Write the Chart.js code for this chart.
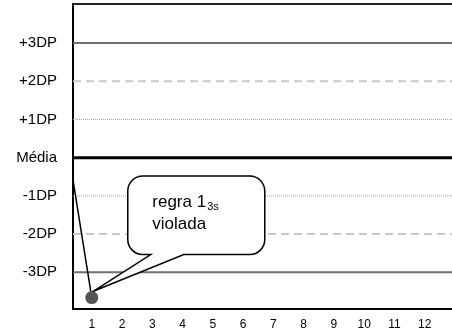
<!DOCTYPE html>
<html lang="pt">
<head>
    <meta charset="UTF-8">
    <title>Carta de controle - regra 1-3s</title>
    <script src="https://cdn.jsdelivr.net/npm/chart.js"></script>
    <style>
        body {
            margin: 0;
            background-color: #fff;
        }
        .chart-container {
            width: 452px;
            height: 335px;
        }
    </style>
</head>
<body>

    <div class="chart-container">
        <canvas id="qcChart"></canvas>
    </div>

    <script>
        // Runs shown on the x axis
        const runLabels = ['1', '2', '3', '4', '5', '6', '7', '8', '9', '10', '11', '12'];

        // Control levels (in DP) and their labels
        const sdLevels = [-3, -2, -1, 0, 1, 2, 3];
        const sdLabels = ['-3DP', '-2DP', '-1DP', 'Média', '+1DP', '+2DP', '+3DP'];

        // Control results in DP; run 0 is the previous result, cut off by the axis
        const runs = [0, 1];
        const results = [1.3, -3.66];

        // Callout text
        const calloutMain = 'regra 1';
        const calloutSub = '3s';
        const calloutLine2 = 'violada';

        const X_MIN = 0.38;
        const X_MAX = 12.9;
        const FONT = '"Liberation Sans", Arial, sans-serif';

        // Line style for each control limit
        function limitStyle(level) {
            const a = Math.abs(level);
            if (a === 0) return { borderColor: '#000000', borderWidth: 3, borderDash: [] };
            if (a === 1) return { borderColor: '#a0a0a0', borderWidth: 1, borderDash: [1, 1] };
            if (a === 2) return { borderColor: '#c8c8c8', borderWidth: 2, borderDash: [8, 5] };
            return { borderColor: '#707070', borderWidth: 2, borderDash: [] };
        }

        const limitSets = sdLevels.map(level => Object.assign({
            label: 'limit ' + level,
            data: [{ x: X_MIN, y: level }, { x: X_MAX, y: level }],
            pointRadius: 0,
            fill: false,
            order: 2
        }, limitStyle(level)));

        const resultSet = {
            label: 'controle',
            data: runs.map((x, i) => ({ x: x, y: results[i] })),
            borderColor: '#000000',
            borderWidth: 1.5,
            pointRadius: ctx => (ctx.dataIndex === 0 ? 0 : 6.5),
            pointBackgroundColor: '#555555',
            pointBorderWidth: 0,
            fill: false,
            order: 0
        };

        // Top frame line and the "regra 1-3s violada" callout
        const calloutPlugin = {
            id: 'callout',
            afterDatasetsDraw(chart) {
                const ctx = chart.ctx;
                const area = chart.chartArea;

                ctx.save();
                ctx.strokeStyle = '#222222';
                ctx.lineWidth = 2;
                ctx.beginPath();
                ctx.moveTo(area.left, area.top);
                ctx.lineTo(area.right, area.top);
                ctx.stroke();

                const meta = chart.getDatasetMeta(chart.data.datasets.indexOf(resultSet));
                const pt = meta.data[1];
                const bx = pt.x + 36, by = pt.y - 121.5, bw = 137, bh = 78.5, r = 15;
                const b1 = bx + 23, b2 = bx + 56;
                const tipX = pt.x + 1, tipY = pt.y - 6;

                ctx.beginPath();
                ctx.moveTo(bx + r, by);
                ctx.lineTo(bx + bw - r, by);
                ctx.arcTo(bx + bw, by, bx + bw, by + r, r);
                ctx.lineTo(bx + bw, by + bh - r);
                ctx.arcTo(bx + bw, by + bh, bx + bw - r, by + bh, r);
                ctx.lineTo(b2, by + bh);
                ctx.lineTo(tipX, tipY);
                ctx.lineTo(b1, by + bh);
                ctx.lineTo(bx + r, by + bh);
                ctx.arcTo(bx, by + bh, bx, by + bh - r, r);
                ctx.lineTo(bx, by + r);
                ctx.arcTo(bx, by, bx + r, by, r);
                ctx.closePath();
                ctx.fillStyle = '#ffffff';
                ctx.fill();
                ctx.strokeStyle = '#000000';
                ctx.lineWidth = 1.5;
                ctx.stroke();

                ctx.fillStyle = '#000000';
                ctx.textBaseline = 'alphabetic';
                ctx.textAlign = 'left';
                ctx.font = '17px ' + FONT;
                const tx = bx + 24.5;
                ctx.fillText(calloutMain, tx, by + 31);
                const w = ctx.measureText(calloutMain).width;
                ctx.fillText(calloutLine2, tx, by + 53);
                ctx.font = '11px ' + FONT;
                ctx.fillText(calloutSub, tx + w + 1, by + 34);
                ctx.restore();
            }
        };

        new Chart(document.getElementById('qcChart').getContext('2d'), {
            type: 'line',
            data: {
                datasets: [resultSet].concat(limitSets)
            },
            options: {
                responsive: true,
                maintainAspectRatio: false,
                animation: false,
                layout: {
                    autoPadding: false,
                    padding: { top: 4, right: 0, left: 0, bottom: 0 }
                },
                plugins: {
                    legend: { display: false },
                    tooltip: { enabled: false }
                },
                scales: {
                    x: {
                        type: 'linear',
                        min: X_MIN,
                        max: X_MAX,
                        afterBuildTicks: scale => {
                            scale.ticks = runLabels.map((_, i) => ({ value: i + 1 }));
                        },
                        afterFit: scale => {
                            scale.height = 26;
                            scale.paddingLeft = 0;
                            scale.paddingRight = 0;
                        },
                        ticks: {
                            callback: (value, index) => runLabels[index],
                            color: '#000000',
                            font: { family: FONT, size: 12 },
                            padding: 8,
                            maxRotation: 0,
                            autoSkip: false
                        },
                        grid: { display: false, drawTicks: false },
                        border: { color: '#000000', width: 2 }
                    },
                    y: {
                        min: -3.96,
                        max: 4.02,
                        afterBuildTicks: scale => {
                            scale.ticks = sdLevels.map(v => ({ value: v }));
                        },
                        afterFit: scale => {
                            scale.width = 73;
                            scale.paddingTop = 0;
                            scale.paddingBottom = 0;
                        },
                        ticks: {
                            callback: (value, index) => sdLabels[index],
                            color: '#000000',
                            font: { family: FONT, size: 15 },
                            padding: 16
                        },
                        grid: { display: false, drawTicks: false },
                        border: { color: '#000000', width: 2 }
                    }
                }
            },
            plugins: [calloutPlugin]
        });
    </script>

</body>
</html>
